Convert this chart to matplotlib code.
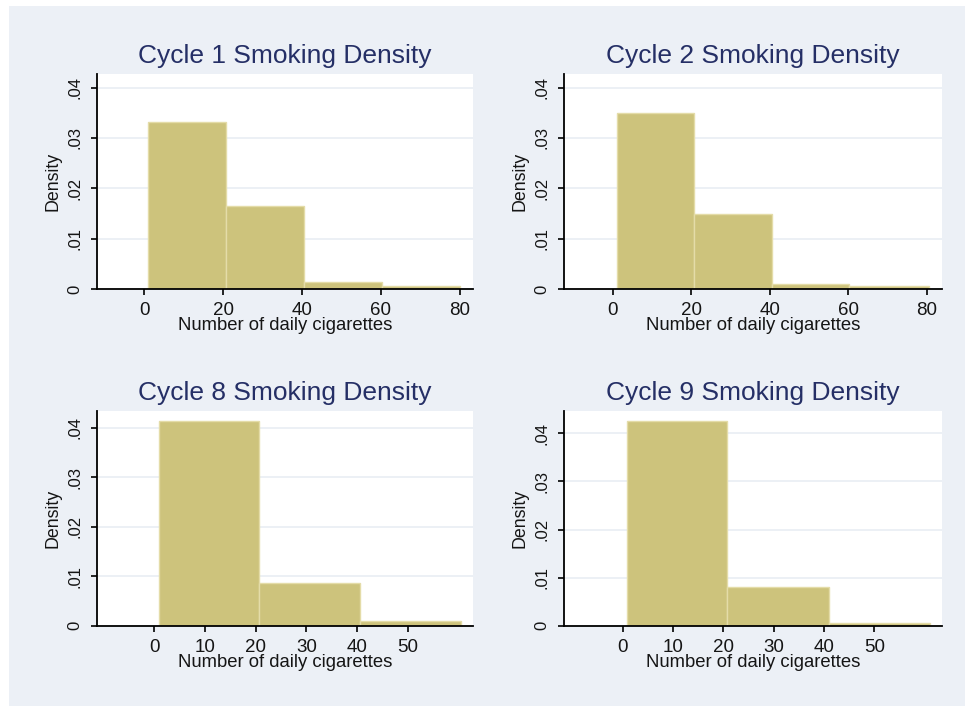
import matplotlib
matplotlib.use("Agg")
import matplotlib.pyplot as plt
from matplotlib.patches import Rectangle

plt.rcParams["font.family"] = ["Liberation Sans", "DejaVu Sans"]

# ---- data: histogram bin edges and densities for each survey cycle ----
titles = ["Cycle 1 Smoking Density", "Cycle 2 Smoking Density",
          "Cycle 8 Smoking Density", "Cycle 9 Smoking Density"]

cycle1_edges = [1, 20.75, 40.5, 60.25, 80]
cycle1_density = [0.0331, 0.0164, 0.0013, 0.0005]

cycle2_edges = [1, 20.75, 40.5, 60.25, 80.5]
cycle2_density = [0.0350, 0.0149, 0.0009, 0.0005]

cycle8_edges = [1, 20.67, 40.6, 60.4]
cycle8_density = [0.0413, 0.0087, 0.0010]

cycle9_edges = [0.8, 20.8, 41, 61]
cycle9_density = [0.0425, 0.0080, 0.0005]

xticks_top = [0, 20, 40, 60, 80]
xticks_bottom = [0, 10, 20, 30, 40, 50]
yticks = [0, 0.01, 0.02, 0.03, 0.04]
ytick_labels = ["0", ".01", ".02", ".03", ".04"]

xlabel = "Number of daily cigarettes"
ylabel = "Density"

# axis ranges per panel
xlims = [(-12, 83.3), (-12.3, 83.8), (-11.3, 62.8), (-11.6, 63.4)]
ylims = [(0, 0.0427), (0, 0.0427), (0, 0.0434), (0, 0.0447)]

# ---- styling ----
W, H = 966, 707
bg = "#ecf0f6"
bar_fill = "#cdc37c"
bar_edge = "#e4dca8"
grid_col = "#e9eef4"
title_col = "#252f66"
text_col = "#151515"

fig = plt.figure(figsize=(W / 100, H / 100), dpi=100, facecolor="white")
fig.patches.append(Rectangle((9 / W, 1 / H), (965 - 9) / W, (706 - 6) / H,
                             transform=fig.transFigure, facecolor=bg,
                             edgecolor="none", zorder=-5))

# panel boxes in pixels: left, top, right, bottom
boxes = [(96.7, 74, 473, 289), (564.3, 74, 941.7, 289),
         (96.7, 410.7, 473, 625.7), (564.3, 410.7, 941.7, 625.7)]

panels = [(cycle1_edges, cycle1_density, xticks_top),
          (cycle2_edges, cycle2_density, xticks_top),
          (cycle8_edges, cycle8_density, xticks_bottom),
          (cycle9_edges, cycle9_density, xticks_bottom)]

for i, ((edges, dens, xt), (l, t, r, b)) in enumerate(zip(panels, boxes)):
    ax = fig.add_axes([l / W, (H - b) / H, (r - l) / W, (b - t) / H])
    ax.set_facecolor("white")
    lefts = edges[:-1]
    widths = [edges[k + 1] - edges[k] for k in range(len(dens))]
    ax.bar(lefts, dens, width=widths, align="edge", color=bar_fill,
           edgecolor=bar_edge, linewidth=1.0, zorder=2)

    ax.set_xlim(*xlims[i])
    ax.set_ylim(*ylims[i])
    ax.set_xticks(xt)
    ax.set_yticks(yticks)
    ax.set_yticklabels(ytick_labels)
    ax.yaxis.grid(True, color=grid_col, linewidth=1.2, zorder=0)
    ax.set_axisbelow(True)

    for side in ("top", "right"):
        ax.spines[side].set_visible(False)
    for side in ("left", "bottom"):
        ax.spines[side].set_color("black")
        ax.spines[side].set_linewidth(1.3)

    ax.tick_params(axis="x", direction="out", length=4.5, width=1.2,
                   pad=5, labelsize=13.5, colors="black", labelcolor=text_col)
    ax.tick_params(axis="y", direction="out", length=4.5, width=1.2,
                   pad=6, labelsize=12, colors="black", labelcolor=text_col)
    for lab in ax.get_yticklabels():
        lab.set_rotation(90)
        lab.set_va("center")

    ax.set_title(titles[i], fontsize=19, color=title_col, pad=8)

    ax.annotate(xlabel, xy=(0.5, 0), xycoords="axes fraction",
                xytext=(0, -29.5), textcoords="offset points",
                ha="center", va="baseline", fontsize=13.3, color=text_col)
    ax.annotate(ylabel, xy=(0, 0.5), xycoords="axes fraction",
                xytext=(-28.5, 0), textcoords="offset points",
                ha="center", va="baseline", rotation=90,
                rotation_mode="anchor", fontsize=12.8, color=text_col)

fig.savefig("out.png", dpi=100, facecolor=fig.get_facecolor())
